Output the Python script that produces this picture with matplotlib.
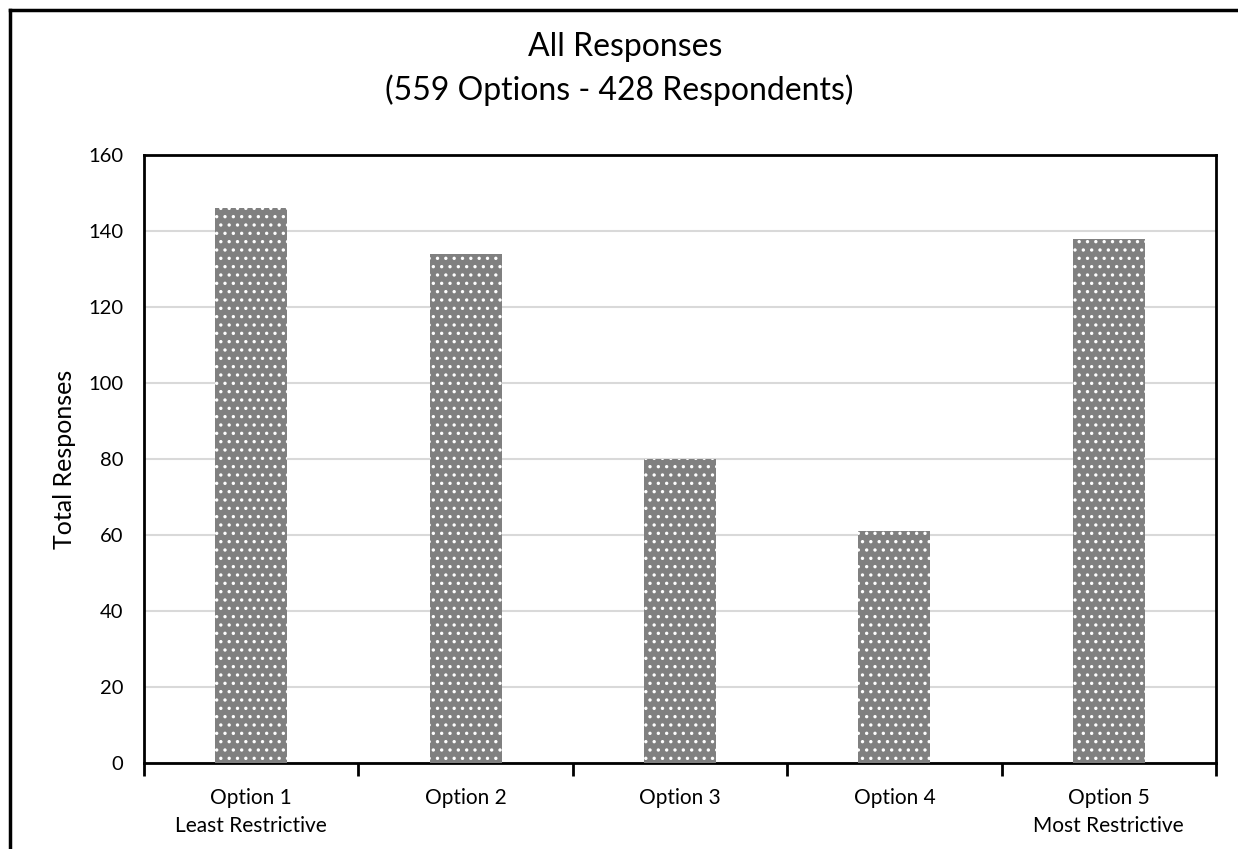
import matplotlib.pyplot as plt
import matplotlib.lines as mlines
import numpy as np

plt.rcParams['font.family'] = ['Lato', 'DejaVu Sans']
plt.rcParams['hatch.color'] = 'white'
plt.rcParams['hatch.linewidth'] = 1.2

options = ["Option 1\nLeast Restrictive", "Option 2", "Option 3", "Option 4",
           "Option 5\nMost Restrictive"]
responses = [146, 134, 80, 61, 138]
y_ticks = [0, 20, 40, 60, 80, 100, 120, 140, 160]


def plot_responses():
    """Bar chart of total responses for each option"""
    fig = plt.figure(figsize=(12.38, 8.49), dpi=100)
    ax = fig.add_axes([144 / 1238, 1 - 763 / 849, 1072 / 1238, 608 / 849])

    x = np.arange(len(options))
    ax.bar(x, responses, width=0.336, color="#808080", edgecolor="white",
           linewidth=0, hatch="..", zorder=3)

    ax.set_xlim(-0.5, len(options) - 0.5)
    ax.set_ylim(0, 160)
    ax.set_yticks(y_ticks)
    ax.yaxis.grid(True, color="#d9d9d9", linewidth=1.5, zorder=0)
    ax.tick_params(axis="y", length=0, pad=15, labelsize=14.5)

    # ticks sit on category boundaries, labels at centres
    ax.set_xticks(np.arange(len(options) + 1) - 0.5)
    ax.set_xticklabels([])
    ax.set_xticks(x, minor=True)
    ax.set_xticklabels(options, minor=True, fontsize=15, linespacing=1.5)
    ax.tick_params(axis="x", which="major", length=9, width=2, direction="out")
    ax.tick_params(axis="x", which="minor", length=0, pad=18)

    for spine in ax.spines.values():
        spine.set_linewidth(2)
        spine.set_color("black")

    ax.set_ylabel("Total Responses", fontsize=18, labelpad=9)
    fig.text(0.505, 1 - 47 / 849, "All Responses", ha="center", va="center", fontsize=23)
    fig.text(0.5, 1 - 90 / 849, "(559 Options - 428 Respondents)", ha="center",
             va="center", fontsize=23)

    # outer chart border (runs off the right and bottom)
    fig.add_artist(mlines.Line2D([10 / 1238, 1.0], [1 - 10 / 849] * 2,
                                 color="black", linewidth=2.5))
    fig.add_artist(mlines.Line2D([10 / 1238] * 2, [0.0, 1 - 10 / 849],
                                 color="black", linewidth=2.5))

    fig.savefig("out.png", dpi=100)


if __name__ == "__main__":
    plot_responses()
